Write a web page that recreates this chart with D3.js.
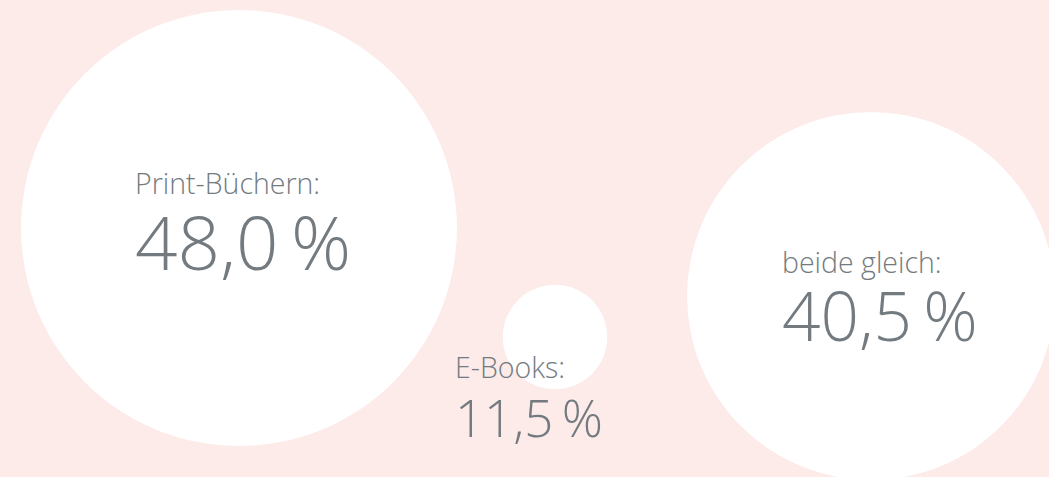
<!DOCTYPE html>
<html>
<head>
<meta charset="utf-8">
<script src="https://cdn.jsdelivr.net/npm/d3@7"></script>
<style>
  html, body { margin: 0; padding: 0; background: #fcebe9; overflow: hidden; }
  text { font-family: "Open Sans", "Noto Sans", sans-serif; font-weight: 300; fill: #737b80; }
</style>
</head>
<body>
<div id="chart"></div>
<script>
// data
var categories = ["Print-Büchern:", "E-Books:", "beide gleich:"];
var values = [48.0, 11.5, 40.5];

var width = 1049,
    height = 477;

// layout only: bubble centre height and where its text block starts
var centerY = [228, 337, 296];
var textDx = [-104, -100, -89];
var labelDy = [-34, 41, -23];
var valueDy = [42, 100, 45];

var svg = d3.select("#chart")
    .append("svg")
    .attr("width", width)
    .attr("height", height);

// radius grows linearly with the share
var r = d3.scaleLinear()
    .domain([0, d3.max(values)])
    .range([0, 218]);

var x = d3.scalePoint()
    .domain(categories)
    .range([239, 871]);

var fontSize = d3.scaleLinear()
    .domain([11.5, 40.5, 48])
    .range([51, 67.5, 74.5]);

var fmt = function(v) { return d3.format(".1f")(v).replace(".", ",") + "\u2009%"; };

var data = categories.map(function(c, i) {
    return {name: c, value: values[i], cx: x(c), cy: centerY[i], i: i};
});

svg.selectAll(".bubble")
    .data(data)
    .enter().append("circle")
    .attr("class", "bubble")
    .attr("cx", function(d) { return d.cx; })
    .attr("cy", function(d) { return d.cy; })
    .attr("r", function(d) { return r(d.value); })
    .attr("fill", "#ffffff");

var g = svg.selectAll(".txt")
    .data(data)
    .enter().append("g")
    .attr("class", "txt")
    .attr("transform", function(d) { return "translate(" + (d.cx + textDx[d.i]) + "," + d.cy + ")"; });

g.append("text")
    .attr("class", "label")
    .attr("y", function(d) { return labelDy[d.i]; })
    .style("font-size", "28.5px")
    .text(function(d) { return d.name; });

g.append("text")
    .attr("class", "value")
    .attr("y", function(d) { return valueDy[d.i]; })
    .style("font-size", function(d) { return fontSize(d.value) + "px"; })
    .text(function(d) { return fmt(d.value); });
</script>
</body>
</html>
